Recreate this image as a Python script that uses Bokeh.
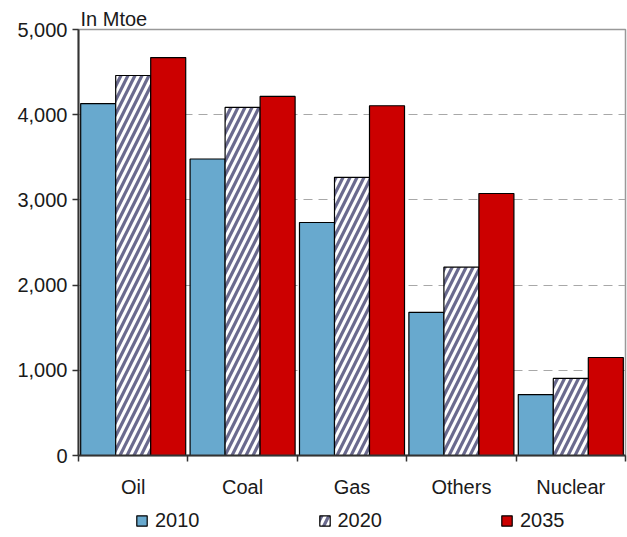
from bokeh.plotting import figure
from bokeh.layouts import column
from bokeh.models import (ColumnDataSource, Range1d, FixedTicker, NumeralTickFormatter,
                          Legend, LegendItem)
from bokeh.transform import dodge
from bokeh.embed import file_html
from bokeh.resources import INLINE

categories = ["Oil", "Coal", "Gas", "Others", "Nuclear"]
years = ["2010", "2020", "2035"]
v2010 = [4130, 3480, 2735, 1680, 715]
v2020 = [4460, 4085, 3265, 2210, 905]
v2035 = [4670, 4215, 4105, 3075, 1150]
y_ticks = [0, 1000, 2000, 3000, 4000, 5000]

FONT = "Liberation Sans"
FS = "20px"
TXT = "#1a1a1a"
C2010 = dict(fill_color="#68A9CE", line_color="black", line_width=1.2)
C2020 = dict(fill_color="white", hatch_pattern="/", hatch_color="#6A6A8E",
             hatch_weight=3.2, hatch_scale=14, line_color="black", line_width=1.2)
C2035 = dict(fill_color="#CC0000", line_color="black", line_width=1.2)

pos = [i + 0.5 for i in range(len(categories))]
src = ColumnDataSource(dict(x=pos, cat=categories, v2010=v2010, v2020=v2020, v2035=v2035))

p = figure(width=627, height=505, x_range=Range1d(0, len(categories)), y_range=Range1d(0, 5000),
           output_backend="svg", toolbar_location=None,
           min_border_left=78, min_border_right=2, min_border_top=29, min_border_bottom=50)

p.title.text = "In Mtoe"
p.title.text_font = FONT
p.title.text_font_size = FS
p.title.text_font_style = "normal"
p.title.text_color = TXT
p.title.text_line_height = 0.9
p.title.align = "left"
p.title.offset = 2
p.title.standoff = 0

bw = 0.32
p.vbar(x=dodge("x", -0.32), top="v2010", width=bw, source=src, **C2010)
p.vbar(x=dodge("x", 0.0), top="v2020", width=bw, source=src, **C2020)
p.vbar(x=dodge("x", 0.32), top="v2035", width=bw, source=src, **C2035)

# grid
p.xgrid.visible = False
p.ygrid.ticker = FixedTicker(ticks=y_ticks)
p.ygrid.grid_line_color = "#A8A8A8"
p.ygrid.grid_line_dash = "9 6"
p.ygrid.grid_line_width = 1.2
p.outline_line_color = "#999999"
p.outline_line_width = 1.5

# y axis
ya = p.yaxis[0]
ya.ticker = FixedTicker(ticks=y_ticks, minor_ticks=[])
ya.formatter = NumeralTickFormatter(format="0,0")
ya.major_label_text_font = FONT
ya.major_label_text_font_size = FS
ya.major_label_text_color = TXT
ya.major_tick_in = 0
ya.major_tick_out = 6
ya.major_tick_line_color = "#333333"
ya.major_tick_line_width = 1.5
ya.minor_tick_line_color = None
ya.axis_line_color = "#333333"
ya.axis_line_width = 2
ya.major_label_standoff = 5

# x axis: labels at centres, ticks at boundaries
xa = p.xaxis[0]
xa.ticker = FixedTicker(ticks=pos, minor_ticks=list(range(len(categories) + 1)))
xa.major_label_overrides = {pv: c for pv, c in zip(pos, categories)}
xa.major_label_text_font = FONT
xa.major_label_text_font_size = FS
xa.major_label_text_color = TXT
xa.major_tick_line_color = None
xa.major_tick_in = 0
xa.major_tick_out = 6
xa.minor_tick_in = 0
xa.minor_tick_out = 6
xa.minor_tick_line_color = "#333333"
xa.minor_tick_line_width = 1.5
xa.axis_line_color = "#333333"
xa.axis_line_width = 2
xa.major_label_standoff = 14

# legend strip below the chart (its bars lie below its visible y range)
lg = figure(width=627, height=32, x_range=Range1d(0, len(categories)), y_range=Range1d(20000, 20001),
            output_backend="svg", toolbar_location=None, x_axis_type=None, y_axis_type=None,
            min_border=0)
lg.outline_line_color = None
lg.xgrid.visible = False
lg.ygrid.visible = False
l1 = lg.vbar(x="x", top="v2010", width=bw, source=src, **C2010)
l2 = lg.vbar(x="x", top="v2020", width=bw, source=src, **C2020)
l3 = lg.vbar(x="x", top="v2035", width=bw, source=src, **C2035)
legend = Legend(items=[LegendItem(label=years[0], renderers=[l1]),
                       LegendItem(label=years[1], renderers=[l2]),
                       LegendItem(label=years[2], renderers=[l3])],
                orientation="horizontal", location=(57, 5),
                glyph_width=13, glyph_height=13, label_standoff=7, spacing=118,
                padding=0, margin=0, border_line_color=None, background_fill_alpha=0,
                label_text_font=FONT, label_text_font_size=FS, label_text_color=TXT)
lg.add_layout(legend, "center")

layout = column(p, lg, spacing=0)
open("out.html", "w").write(file_html(layout, INLINE))
